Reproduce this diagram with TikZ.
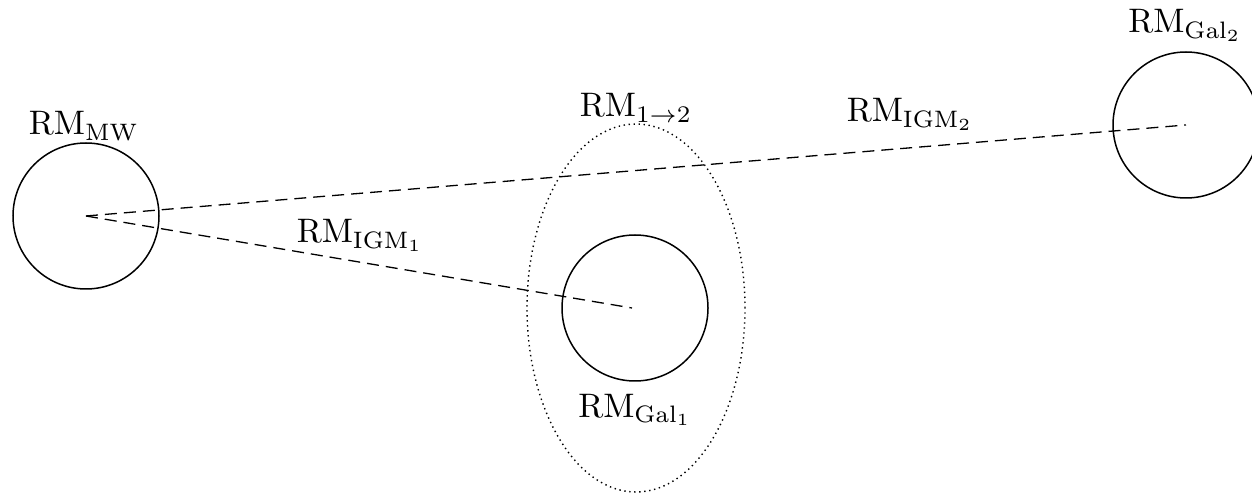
\documentclass[tikz,border=0pt]{standalone}
\usepackage{graphicx}
\usetikzlibrary{shapes.geometric}
\newcommand{\biglbl}[1]{\scalebox{1.70}{#1}}
\begin{document}
\begin{tikzpicture}[x=0.5pt,y=-0.5pt,
  body/.style={draw,circle,minimum size=146pt*0.5,inner sep=0pt,line width=0.75pt},
  lbl/.style={anchor=base,inner sep=0pt},
  dashline/.style={dash pattern=on 6pt off 3.5pt,line width=0.65pt},
  dotline/.style={dash pattern=on 0.7pt off 1.8pt,line width=0.7pt}]
\useasboundingbox (0,0) rectangle (1252,496);
\clip (0,0) rectangle (1252,496);
\coordinate (mwc) at (86,216);
\coordinate (g1c) at (632,308);
\coordinate (g2c) at (1186,125);
\node[body] (mw) at (86,216) {};
\node[body] (g1) at (635,308) {};
\node[body] (g2) at (1186,125) {};
\node[draw,ellipse,dotline,minimum width=218*0.5pt,minimum height=368*0.5pt,inner sep=0pt] (ell) at (636,308) {};
\draw[dashline] (mwc) -- (g2c);
\draw[dashline] (mwc) -- (g1c);
\node[lbl] (lmw) at (84,135) {\biglbl{RM$_{\rm MW}$}};
\node[lbl] (l12) at (636,117) {\biglbl{RM$_{1\to2}$}};
\node[lbl] (lg2) at (1185,33) {\biglbl{RM$_{\rm Gal_2}$}};
\node[lbl] (li1) at (360,243) {\biglbl{RM$_{\rm IGM_1}$}};
\node[lbl] (lg1) at (635,417) {\biglbl{RM$_{\rm Gal_1}$}};
\node[lbl] (li2) at (910,122) {\biglbl{RM$_{\rm IGM_2}$}};
\end{tikzpicture}
\end{document}
